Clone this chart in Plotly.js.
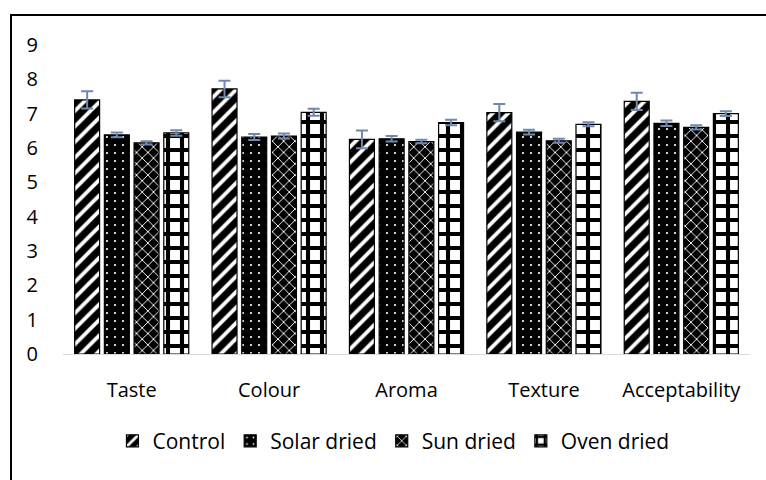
<!DOCTYPE html>
<html>
<head>
<meta charset="utf-8">
<script src="https://cdn.plot.ly/plotly-3.0.1.min.js"></script>
<style>
html,body{margin:0;padding:0;background:#fff;}
#chart{width:766px;height:480px;}
</style>
</head>
<body>
<div id="chart"></div>
<script>
const categories = ["Taste", "Colour", "Aroma", "Texture", "Acceptability"];
const seriesNames = ["Control", "Solar dried", "Sun dried", "Oven dried"];
const control    = [7.40, 7.72, 6.25, 7.03, 7.36];
const controlErr = [0.25, 0.24, 0.26, 0.25, 0.25];
const solar      = [6.38, 6.32, 6.27, 6.46, 6.72];
const solarErr   = [0.07, 0.09, 0.08, 0.07, 0.08];
const sun        = [6.15, 6.35, 6.19, 6.21, 6.60];
const sunErr     = [0.05, 0.07, 0.05, 0.06, 0.06];
const oven       = [6.44, 7.04, 6.74, 6.69, 7.00];
const ovenErr    = [0.08, 0.10, 0.08, 0.06, 0.07];
const yTicks = [0, 1, 2, 3, 4, 5, 6, 7, 8, 9];

const errStyle = arr => ({type: "data", array: arr, visible: true, color: "#7089AC", thickness: 2, width: 6});

const traces = [
  {name: seriesNames[0], x: categories, y: control, error_y: errStyle(controlErr),
   marker: {color: "#000", line: {color: "#000", width: 1.2},
            pattern: {shape: "/", fgcolor: "#fff", bgcolor: "#000", size: 11, solidity: 0.35}}},
  {name: seriesNames[1], x: categories, y: solar, error_y: errStyle(solarErr),
   marker: {color: "#000", line: {color: "#000", width: 1.2},
            pattern: {shape: ".", fgcolor: "#fff", bgcolor: "#000", size: 8, solidity: 0.06}}},
  {name: seriesNames[2], x: categories, y: sun, error_y: errStyle(sunErr),
   marker: {color: "#000", line: {color: "#000", width: 1.2},
            pattern: {shape: "x", fgcolor: "#fff", bgcolor: "#000", size: 8, solidity: 0.22}}},
  {name: seriesNames[3], x: categories, y: oven, error_y: errStyle(ovenErr),
   marker: {color: "#fff", line: {color: "#000", width: 1.2},
            pattern: {shape: "+", fgcolor: "#000", bgcolor: "#fff", size: 14, solidity: 0.5}}}
].map(t => Object.assign({type: "bar"}, t));

const layout = {
  width: 766, height: 480,
  margin: {l: 63, r: 16, t: 45, b: 126},
  paper_bgcolor: "#fff", plot_bgcolor: "#fff",
  font: {family: "Open Sans, sans-serif", size: 20, color: "#000"},
  barmode: "group", bargap: 0.135, bargroupgap: 0.16,
  showlegend: true,
  legend: {orientation: "h", x: 0.481, xanchor: "center", y: -0.282, yanchor: "middle",
           font: {size: 21, color: "#000"}, itemwidth: 30, traceorder: "normal"},
  xaxis: {showline: true, linecolor: "#D9D9D9", linewidth: 1, ticks: "", showgrid: false,
          zeroline: false, ticklabelstandoff: 18, tickfont: {size: 20}},
  yaxis: {range: [0, 9], tickvals: yTicks, showgrid: false, zeroline: false, showline: false,
          ticks: "", ticklabelstandoff: 24, tickfont: {size: 20}},
  shapes: [
    {type: "line", xref: "paper", yref: "paper", x0: -0.0757, x1: -0.0757, y0: 1.099, y1: -0.42,
     line: {color: "#000", width: 2}},
    {type: "line", xref: "paper", yref: "paper", x0: -0.0771, x1: 1.03, y0: 1.097, y1: 1.097,
     line: {color: "#000", width: 2}}
  ]
};

Plotly.newPlot("chart", traces, layout, {staticPlot: true, displayModeBar: false});
</script>
</body>
</html>
